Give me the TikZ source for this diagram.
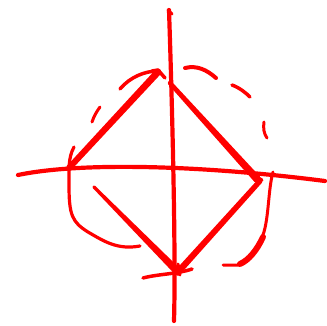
\documentclass[tikz,border=0pt]{standalone}
\usetikzlibrary{calc}
\newcommand\taperline[4]{%
  \fill[red] ($(#1)!#3!90:(#2)$) -- ($(#2)!#4!-90:(#1)$) -- ($(#2)!#4!90:(#1)$) -- ($(#1)!#3!-90:(#2)$) -- cycle;
  \fill[red] (#1) circle (#3); \fill[red] (#2) circle (#4);}
\begin{document}
\begin{tikzpicture}[x=1pt,y=-1pt,
  sk/.style={draw=red,line width=#1,line cap=round,line join=round},
  sk/.default=3pt]
\useasboundingbox (0,0) rectangle (327,326);
% axes
\draw[sk=4.2pt] (169,10) .. controls (172,100) and (176,250) .. (174,321);
\draw[sk=3pt] (168,10) -- (172,14);
\draw[sk=4.2pt] (18,175) .. controls (80,162) and (200,165) .. (325,181);
% diamond vertices
\coordinate (L) at (69,168);
\coordinate (T) at (158,72);
\coordinate (T2) at (170,83);
\coordinate (R) at (257,179);
\coordinate (R2) at (260,181);
\coordinate (B) at (178,272);
\coordinate (BL0) at (94,187);
% edges
\taperline{L}{T}{3pt}{3.4pt}
\taperline{T2}{R}{2.2pt}{3.8pt}
\taperline{R2}{B}{2.6pt}{3.2pt}
\taperline{BL0}{B}{1.6pt}{3.8pt}
\draw[sk=3.5pt] (152,71) -- (158,70) -- (165,78);
\draw[sk=3pt] (250,173) -- (262,180);
\draw[sk=3.5pt] (143,278) .. controls (158,274) and (178,274) .. (192,269);
\draw[sk=3pt] (178,264) -- (180,275);
% sketchy circle
\draw[sk=3.5pt] (120,89) .. controls (130,77) and (145,71) .. (158,71);
\draw[sk=3pt] (92,122) .. controls (94,116) and (97,111) .. (100,107);
\draw[sk=3.2pt] (74,147) .. controls (68,158) and (69,170) .. (69,185)
  .. controls (69,215) and (72,222) .. (88,232)
  .. controls (105,242) and (118,250) .. (140,246);
\draw[sk=4pt] (185,68) .. controls (197,65) and (207,70) .. (216,78);
\draw[sk=3.5pt] (232,85) .. controls (240,88) and (246,93) .. (250,97);
\draw[sk=3pt] (264,122) .. controls (263,128) and (264,134) .. (267,138);
\draw[sk=3pt] (273,172) .. controls (268,190) and (269,218) .. (263,235)
  .. controls (257,250) and (248,262) .. (238,265) -- (223,265);
\draw[sk=6pt] (263,237) .. controls (257,250) and (249,260) .. (240,264);
\end{tikzpicture}
\end{document}
